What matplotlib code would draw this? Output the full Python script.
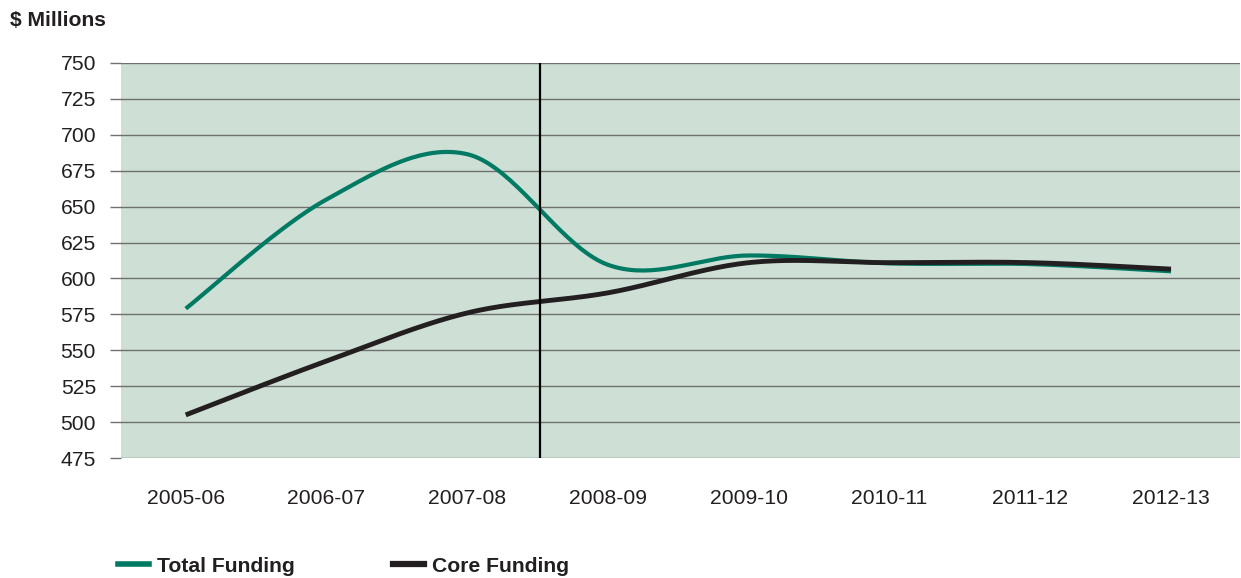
import numpy as np
import matplotlib.pyplot as plt
from matplotlib.lines import Line2D

plt.rcParams['font.family'] = ['Liberation Sans', 'DejaVu Sans']

# Data ($ millions)
years = ['2005-06', '2006-07', '2007-08', '2008-09', '2009-10', '2010-11', '2011-12', '2012-13']
total_funding = [579, 655, 686.5, 609.5, 616, 610.5, 610, 605]
core_funding = [505, 542.5, 576, 590, 611, 611, 611, 606.5]
y_ticks = [475, 500, 525, 550, 575, 600, 625, 650, 675, 700, 725, 750]

GREEN = '#007a62'
BLACK = '#231f20'
GRID = '#6e716f'
BG = '#cedfd6'
FS = 15.2


def smooth(xs, ys, n=40):
    # Catmull-Rom style smoothing as drawn by spreadsheet "smoothed line"
    xs = np.asarray(xs, float)
    ys = np.asarray(ys, float)
    px = np.concatenate([[xs[0]], xs, [xs[-1]]])
    py = np.concatenate([[ys[0]], ys, [ys[-1]]])
    out_x, out_y = [], []
    t = np.linspace(0, 1, n)
    for i in range(1, len(px) - 2):
        p0 = np.array([px[i], py[i]])
        p3 = np.array([px[i + 1], py[i + 1]])
        c1 = p0 + (np.array([px[i + 1], py[i + 1]]) - np.array([px[i - 1], py[i - 1]])) / 6
        c2 = p3 - (np.array([px[i + 2], py[i + 2]]) - np.array([px[i], py[i]])) / 6
        b = ((1 - t) ** 3)[:, None] * p0 + (3 * (1 - t) ** 2 * t)[:, None] * c1 \
            + (3 * (1 - t) * t ** 2)[:, None] * c2 + (t ** 3)[:, None] * p3
        out_x.extend(b[:, 0])
        out_y.extend(b[:, 1])
    return out_x, out_y


fig = plt.figure(figsize=(12.41, 5.78), dpi=100)
ax = fig.add_axes([121 / 1241, 1 - 458 / 578, 1119 / 1241, 395 / 578])
ax.set_facecolor(BG)

x = np.arange(len(years))
sx, sy = smooth(x, total_funding)
ax.plot(sx, sy, color=GREEN, lw=3.0, solid_capstyle='butt', zorder=3)
sx, sy = smooth(x, core_funding)
ax.plot(sx, sy, color=BLACK, lw=3.5, solid_capstyle='butt', zorder=4)

ax.axvline(2.52, color='black', lw=1.6, zorder=5)

ax.set_xlim(-0.46, 7.49)
ax.set_ylim(475, 750)
ax.set_yticks(y_ticks)
ax.set_xticks(x)
ax.set_xticklabels(years)
ax.yaxis.grid(True, color=GRID, lw=1.0)
ax.set_axisbelow(True)
for s in ax.spines.values():
    s.set_visible(False)
ax.tick_params(axis='y', length=8, width=1.0, color=GRID, pad=10, labelsize=FS, labelcolor='#231f20')
ax.tick_params(axis='x', length=0, pad=22, labelsize=FS, labelcolor='#231f20')

fig.text(10 / 1241, 1 - 20 / 578, '$ Millions', fontsize=FS, fontweight='bold',
         color='#231f20', va='center', ha='left')

handles = [Line2D([], [], color=GREEN, lw=4), Line2D([], [], color=BLACK, lw=4.5)]
fig.legend(handles, ['Total Funding', 'Core Funding'], loc='center left',
           bbox_to_anchor=(118 / 1241, 1 - 566 / 578), ncol=2, frameon=False,
           handlelength=1.45, handletextpad=0.4, columnspacing=4.65,
           borderpad=0, borderaxespad=0,
           prop={'weight': 'bold', 'size': FS})
for t in fig.legends[0].get_texts():
    t.set_color('#231f20')

fig.savefig('out.png', dpi=100)
